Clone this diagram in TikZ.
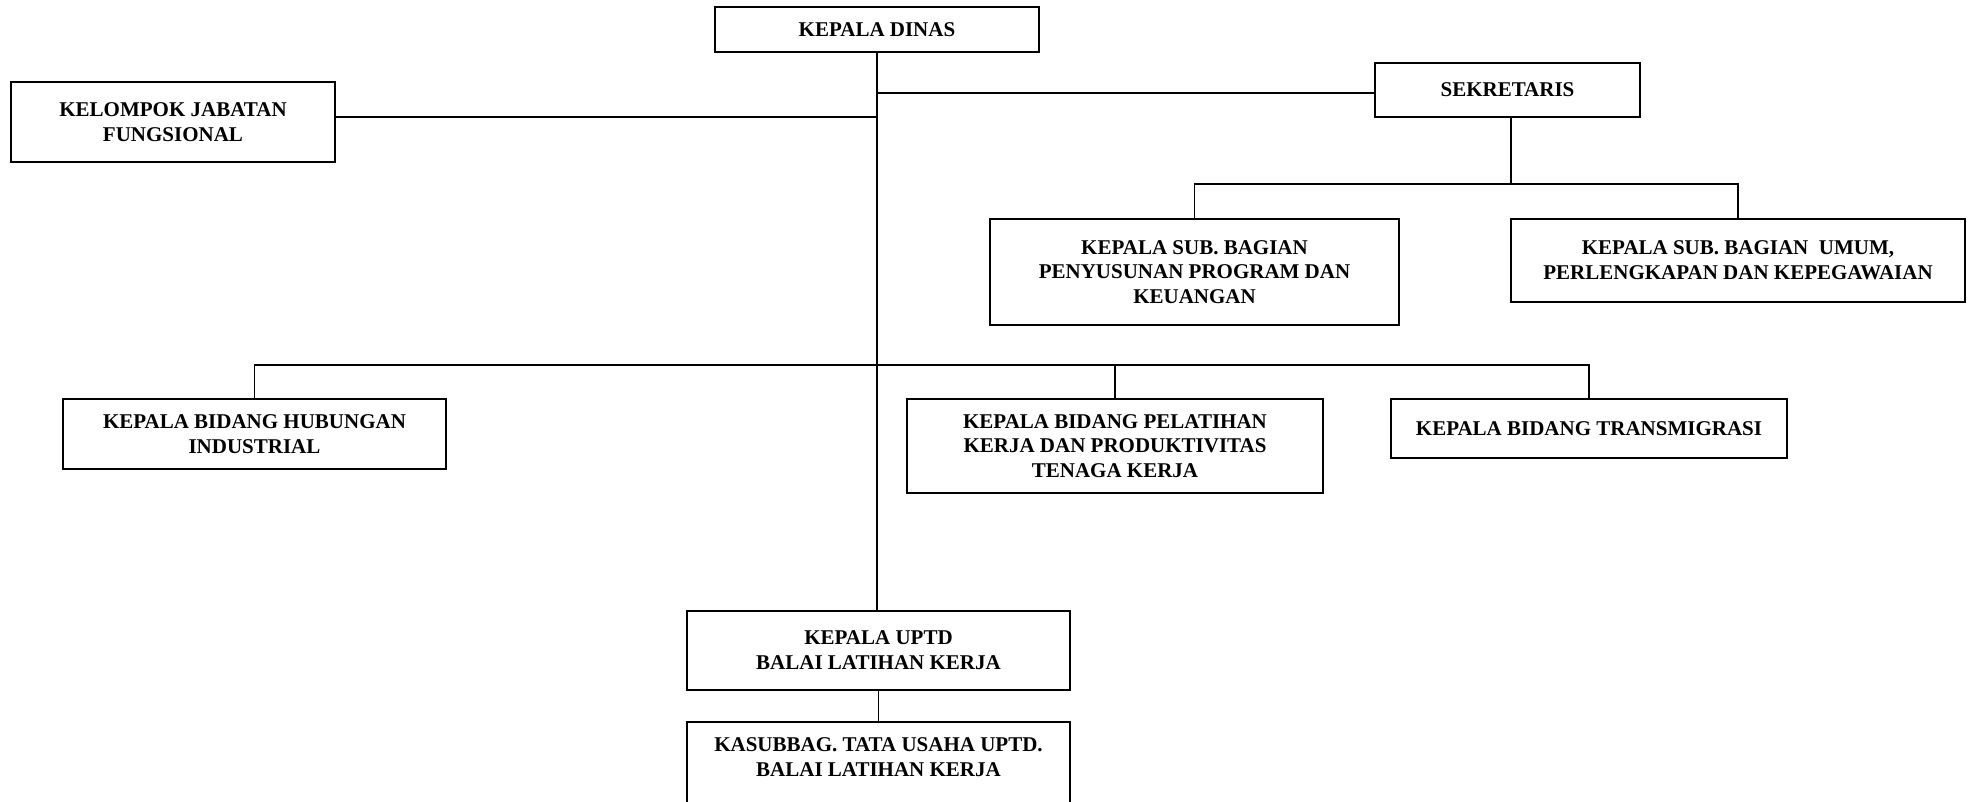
\documentclass[tikz,border=0pt]{standalone}
\usepackage{fontspec}
\setmainfont{Liberation Serif}
\begin{document}
\begin{tikzpicture}[x=1pt, y=-1pt, line width=1.5pt,
    box/.style={shape=rectangle, draw, inner sep=0pt, align=center,
      font=\fontsize{21}{24.7}\selectfont\bfseries}]
    \useasboundingbox (0, 0) rectangle (1970, 801);

    \node [box, minimum width=324pt, minimum height=45pt] (dinas) at (877, 29.5) {KEPALA DINAS};
    \node [box, minimum width=324pt, minimum height=80pt] (fungsi) at (173, 122) {KELOMPOK JABATAN\\FUNGSIONAL};
    \node [box, minimum width=265pt, minimum height=54pt] (sekr) at (1507.5, 90) {SEKRETARIS};
    \node [box, minimum width=409pt, minimum height=106pt] (prog) at (1194.5, 272) {KEPALA SUB. BAGIAN\\PENYUSUNAN PROGRAM DAN\\KEUANGAN};
    \node [box, minimum width=454pt, minimum height=83pt] (umum) at (1738, 260.5) {KEPALA SUB. BAGIAN~~UMUM,\\PERLENGKAPAN DAN KEPEGAWAIAN};

    \node [box, minimum width=383pt, minimum height=70pt] (hub) at (254.5, 434) {KEPALA BIDANG HUBUNGAN\\INDUSTRIAL};
    \node [box, minimum width=416pt, minimum height=94pt] (latih) at (1115, 446) {KEPALA BIDANG PELATIHAN\\KERJA DAN PRODUKTIVITAS\\TENAGA KERJA};
    \node [box, minimum width=396pt, minimum height=59pt] (trans) at (1589, 428.5) {KEPALA BIDANG TRANSMIGRASI};

    \node [box, minimum width=383pt, minimum height=79pt] (uptd) at (878.5, 650.5) {KEPALA UPTD\\BALAI LATIHAN KERJA};
    \node [box, minimum width=383pt, anchor=north, inner ysep=16pt, text depth=70pt] (tu) at (878.5, 721) {KASUBBAG. TATA USAHA UPTD.\\BALAI LATIHAN KERJA};

    \coordinate (sekbar) at (1511, 184);
    \coordinate (bidbar) at (875, 365);

    \draw (dinas.south) -- (dinas.south |- uptd.north);
    \draw ([yshift=-3pt]sekr.west -| dinas.south) -- ([yshift=-3pt]sekr.west);
    \draw ([yshift=5pt]fungsi.east) -- ([yshift=5pt]fungsi.east -| dinas.south);
    \draw (sekr.south -| sekbar) -- (sekbar);
    \draw (prog.north) |- (sekbar) -| (umum.north);
    \draw (hub.north) |- (bidbar);
    \draw (latih.north) |- (bidbar);
    \draw (trans.north) |- (bidbar);
    \draw (uptd.south) -- (tu.north);
  \end{tikzpicture}
\end{document}
